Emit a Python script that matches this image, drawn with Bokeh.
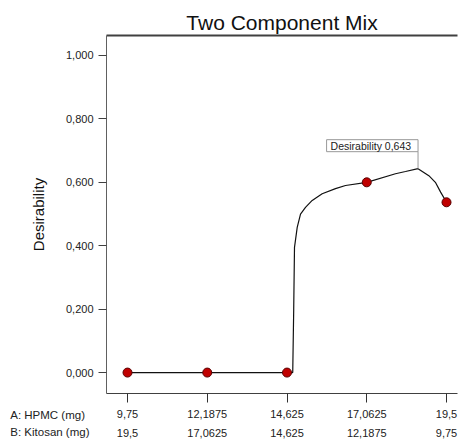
from bokeh.plotting import figure
from bokeh.models import (LinearAxis, FixedTicker, Label, Range1d, Title)
from bokeh.embed import file_html
from bokeh.resources import INLINE

# ---- data ----
title_text = "Two Component Mix"
y_label = "Desirability"
factor_names = ["A: HPMC (mg)", "B: Kitosan (mg)"]

hpmc_ticks = [9.75, 12.1875, 14.625, 17.0625, 19.5]
hpmc_labels = ["9,75", "12,1875", "14,625", "17,0625", "19,5"]
kitosan_labels = ["19,5", "17,0625", "14,625", "12,1875", "9,75"]

y_ticks = [0.0, 0.2, 0.4, 0.6, 0.8, 1.0]
y_labels = ["0,000", "0,200", "0,400", "0,600", "0,800", "1,000"]

# design points
pt_hpmc = [9.75, 12.1875, 14.625, 17.0625, 19.5]
pt_desir = [0.0, 0.0, 0.0, 0.600, 0.537]

# predicted desirability curve
curve_hpmc = [9.75, 12.1875, 14.625, 14.80, 14.83, 14.854, 14.937, 15.038,
              15.19, 15.395, 15.70, 16.107, 16.413, 17.0625, 17.94, 18.247,
              18.63, 18.96, 19.16, 19.32, 19.5]
curve_desir = [0.0, 0.0, 0.0, 0.0, 0.20, 0.395, 0.458, 0.500,
               0.521, 0.543, 0.564, 0.580, 0.590, 0.600, 0.627, 0.634,
               0.643, 0.621, 0.600, 0.569, 0.537]

max_label = "Desirability  0,643"

# ---- layout ----
FONT = "Liberation Sans"
X0, X1 = 9.108, 19.836
Y0, Y1 = -0.066, 1.063
FRAME_H = 358
TXT = "#222222"

p = figure(width=459, height=443, output_backend="svg", toolbar_location=None,
           x_range=Range1d(X0, X1), y_range=Range1d(Y0, Y1),
           min_border_left=106, min_border_right=2, min_border_top=35,
           min_border_bottom=50, background_fill_color="white",
           border_fill_color="white", title=title_text)
p.outline_line_color = None
p.grid.visible = False

p.title.align = "center"
p.title.text_font = FONT
p.title.text_font_size = "21px"
p.title.text_font_style = "normal"
p.title.text_color = "#111111"
p.title.standoff = 3
p.title.offset = 6

# y axis
ya = p.yaxis[0]
ya.ticker = FixedTicker(ticks=y_ticks)
ya.major_label_overrides = dict(zip(y_ticks, y_labels))
ya.minor_tick_line_color = None
ya.major_tick_in = 0
ya.major_tick_out = 8
ya.major_label_standoff = 5
ya.axis_line_color = "#606060"
ya.major_tick_line_color = "#404040"
ya.major_label_text_font = FONT
ya.major_label_text_font_size = "11px"
ya.major_label_text_color = TXT
ya.axis_label = y_label
ya.axis_label_text_font = FONT
ya.axis_label_text_font_size = "15px"
ya.axis_label_text_font_style = "normal"
ya.axis_label_text_color = "#111111"
ya.axis_label_standoff = 16

# x axis row 1 (HPMC)
xa = p.xaxis[0]
xa.ticker = FixedTicker(ticks=hpmc_ticks)
xa.major_label_overrides = dict(zip(hpmc_ticks, hpmc_labels))
xa.minor_tick_line_color = None
xa.major_tick_in = 0
xa.major_tick_out = 9
xa.major_label_standoff = 7
xa.axis_line_color = "#404040"
xa.major_tick_line_color = "#303030"
xa.major_label_text_font = FONT
xa.major_label_text_font_size = "11px"
xa.major_label_text_color = TXT

# x axis row 2 (Kitosan)
xb = LinearAxis(ticker=FixedTicker(ticks=hpmc_ticks))
xb.major_label_overrides = dict(zip(hpmc_ticks, kitosan_labels))
xb.minor_tick_line_color = None
xb.major_tick_line_color = None
xb.major_tick_in = 0
xb.major_tick_out = 0
xb.major_label_standoff = 8
xb.axis_line_color = None
xb.major_label_text_font = FONT
xb.major_label_text_font_size = "11px"
xb.major_label_text_color = TXT
p.add_layout(xb, "below")

# top border line
xt = LinearAxis(ticker=FixedTicker(ticks=[]))
xt.major_label_text_font_size = "0px"
xt.major_tick_line_color = None
xt.minor_tick_line_color = None
xt.major_tick_out = 0
xt.major_tick_in = 0
xt.major_label_standoff = 0
xt.axis_line_color = "#404040"
xt.axis_line_width = 2
p.add_layout(xt, "above")

# factor names, level with the two x label rows (left of the frame)
names_text = "\n".join(factor_names)
try:
    nt = Title(text=names_text, align="right", vertical_align="top",
               offset=368, standoff=-62, text_font=FONT,
               text_font_size="11.5px", text_font_style="normal",
               text_color=TXT, text_line_height=1.48)
    p.add_layout(nt, "below")
except (ValueError, AttributeError):
    for nm, off in zip(factor_names, [28, 9]):
        p.add_layout(Label(x=-15, y=off, x_units="screen", y_units="screen",
                           text=nm, text_align="right", text_baseline="middle",
                           text_font=FONT, text_font_size="11.5px",
                           text_color=TXT), "below")

# curve and points
p.line(curve_hpmc, curve_desir, line_color="#111111", line_width=1.2)
p.scatter(pt_hpmc, pt_desir, size=9, fill_color="#c00000", line_color="#5a0000",
          line_width=1)

# max annotation
ppu = FRAME_H / (Y1 - Y0)
imax = max(range(len(curve_desir)), key=lambda i: curve_desir[i])
xm, ym = curve_hpmc[imax], curve_desir[imax]
p.segment(x0=[xm], y0=[ym], x1=[xm], y1=[ym + 17 / ppu], line_color="#999999",
          line_width=1)
p.add_layout(Label(x=xm, y=ym, y_offset=17, text=max_label, text_align="right",
                   text_baseline="bottom", text_font=FONT,
                   text_font_size="10.5px", text_color=TXT,
                   background_fill_color="white", border_line_color="#999999",
                   padding=(4, 0)))

open("out.html", "w").write(file_html(p, INLINE))
